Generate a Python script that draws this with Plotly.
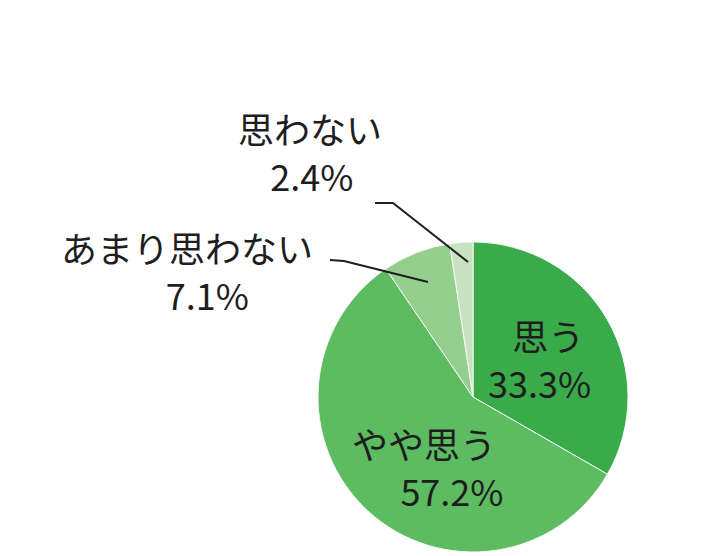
import plotly.graph_objects as go

labels = ["思う", "やや思う", "あまり思わない", "思わない"]
values = [33.3, 57.2, 7.1, 2.4]
colors = ["#3aab4b", "#5dbb62", "#95cf8e", "#c6e2c0"]

W, H = 710, 556
FONT = "Noto Sans CJK JP, Noto Sans, sans-serif"
TXT = "#1e1e1e"
FS = 36

cx, cy, r = 465, 389, 155

fig = go.Figure(go.Pie(
    labels=labels, values=values, sort=False, direction="clockwise", rotation=0,
    marker=dict(colors=colors, line=dict(color="#f4f9f3", width=1)),
    textinfo="none", hoverinfo="label+percent", showlegend=False,
    domain=dict(x=[(cx - r) / W, (cx + r) / W], y=[(H - cy - r) / H, (H - cy + r) / H]),
))

def px(x):
    return x / W

def py(y):
    return 1 - y / H

NB = "\u00a0"
# per label: left x of block, centre y of block, padding (nbsp count) for name line, value line
label_layout = {
    0: (478, 350, 3, 0),
    1: (342, 458, 0, 6),
    2: (51, 262, 0, 13),
    3: (228, 144, 0, 4),
}
for i, (lx, by, pad1, pad2) in label_layout.items():
    txt = NB * pad1 + labels[i] + "<br>" + NB * pad2 + f"{values[i]}%"
    fig.add_annotation(x=px(lx), y=py(by), xref="paper", yref="paper", text=txt,
                       showarrow=False, align="left",
                       font=dict(family=FONT, size=FS, color=TXT),
                       xanchor="left", yanchor="middle")

# leader lines
def path(pts):
    return "M " + " L ".join(f"{px(x)},{py(y)}" for x, y in pts)

fig.add_shape(type="path", xref="paper", yref="paper",
              path=path([(367, 195), (385, 195), (460, 254)]),
              line=dict(color="#1e1e1e", width=2))
fig.add_shape(type="path", xref="paper", yref="paper",
              path=path([(322, 252), (336, 253), (420, 274)]),
              line=dict(color="#1e1e1e", width=2))

fig.update_layout(width=W, height=H, margin=dict(l=0, r=0, t=0, b=0),
                  paper_bgcolor="white", plot_bgcolor="white")
fig.write_html("out.html")
